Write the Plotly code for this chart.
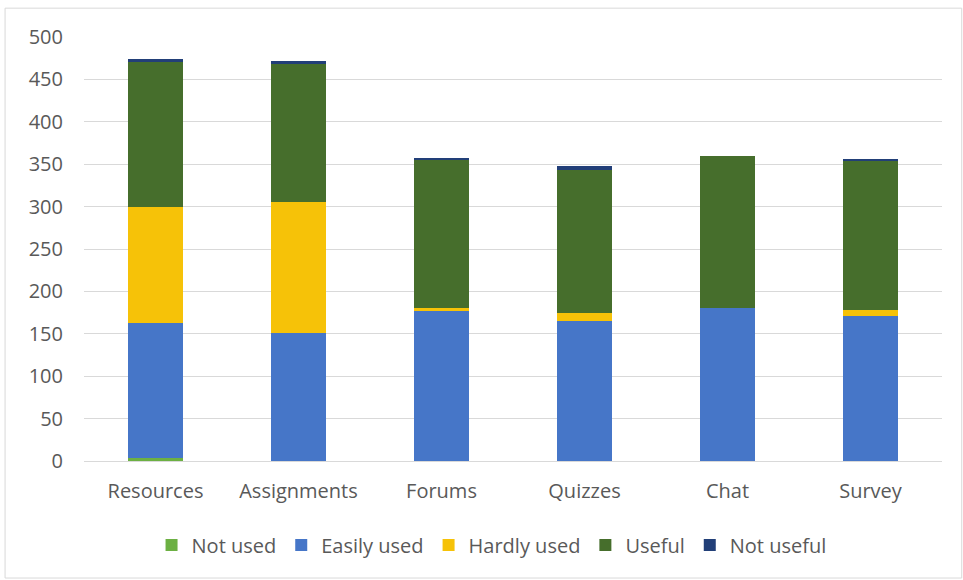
import plotly.graph_objects as go

# Moodle activity ratings by tool
categories = ["Resources", "Assignments", "Forums", "Quizzes", "Chat", "Survey"]
not_used = [3, 0, 0, 0, 0, 0]
easily_used = [160, 151, 177, 165, 180, 171]
hardly_used = [137, 154, 4, 10, 0, 7]
useful = [170, 163, 175, 168, 180, 176]
not_useful = [4, 4, 1, 4.5, 0, 1.5]

series = [
    ("Not used", not_used, "#6cb043"),
    ("Easily used", easily_used, "#4676c8"),
    ("Hardly used", hardly_used, "#f6c208"),
    ("Useful", useful, "#466e2c"),
    ("Not useful", not_useful, "#223f78"),
]

fig = go.Figure()
for name, vals, color in series:
    fig.add_trace(go.Bar(
        x=categories, y=vals, name=name,
        marker=dict(color=color, line=dict(width=0)),
    ))

font_family = "Open Sans, Noto Sans, sans-serif"
text_color = "#595959"
fig.update_layout(
    barmode="stack",
    bargap=0.61,
    width=963, height=580,
    margin=dict(l=84, r=21, t=37, b=119),
    paper_bgcolor="white",
    plot_bgcolor="white",
    font=dict(family=font_family, size=20, color=text_color),
    showlegend=True,
    legend=dict(
        orientation="h", x=0.475, xanchor="center", y=-0.198, yanchor="middle",
        font=dict(size=20, color=text_color), itemwidth=30, traceorder="normal",
    ),
    xaxis=dict(
        showgrid=False, showline=False, zeroline=False,
        ticks="outside", ticklen=12, tickcolor="rgba(0,0,0,0)",
        tickfont=dict(size=20, color=text_color),
    ),
    yaxis=dict(
        range=[0, 500], dtick=50, showgrid=True, gridcolor="#d9d9d9",
        gridwidth=1, zeroline=True, zerolinecolor="#d9d9d9", zerolinewidth=1,
        showline=False, ticklabelstandoff=20,
        tickfont=dict(size=20, color=text_color),
    ),
    shapes=[dict(
        type="rect", xref="paper", yref="paper",
        x0=-0.092, x1=1.023, y0=-0.276, y1=1.068,
        line=dict(color="#d9d9d9", width=1), layer="below",
    )],
)

fig.write_html("out.html")
